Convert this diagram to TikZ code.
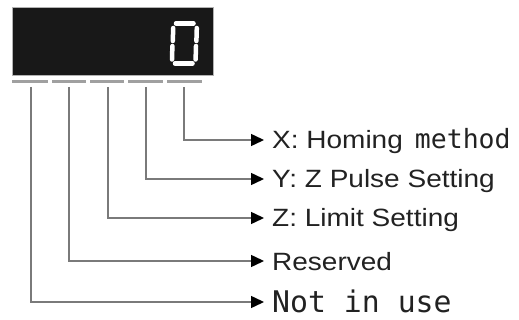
\documentclass[tikz,border=0pt]{standalone}
\usepackage{fontspec}
\setmainfont{Liberation Sans}
\newfontfamily\monof{DejaVu Sans Mono}
\usetikzlibrary{arrows.meta}
\definecolor{linegray}{HTML}{7A7A7A}
\definecolor{dashgray}{HTML}{A0A0A0}
\definecolor{dispbg}{HTML}{181818}
\definecolor{txt}{HTML}{222222}
\tikzset{
  conn/.style={draw=linegray, line width=1.5pt, -{Triangle[length=13pt,width=12pt,color=black]}},
  lab/.style={anchor=base west, inner sep=0pt, text=txt, font=\fontsize{25}{25}\selectfont},
  seg/.style={draw=white, line width=4.5pt, line cap=round},
  dashbar/.style={draw=dashgray, line width=3pt}
}
\newcommand{\wide}[1]{\scalebox{1.12}[1]{#1}}
\begin{document}
\begin{tikzpicture}[x=1pt,y=-1pt]
\useasboundingbox (0,0) rectangle (519,320);
% display
\node[draw=gray!60, line width=0.8pt, fill=dispbg, minimum width=201pt, minimum height=68pt, anchor=north west, inner sep=0pt] (disp) at (12,7) {};
% digit 0
\draw[seg] (176,23.5) -- (193.5,23.5);
\draw[seg] (173.2,28) -- (172.8,41);
\draw[seg] (196.8,28) -- (196.4,41);
\draw[seg] (172.4,46) -- (172,59.5);
\draw[seg] (196,46) -- (195.6,59.5);
\draw[seg] (175,63.5) -- (192.5,63.5);
% dashes
\foreach \a/\b in {12/48, 52/86, 90/124, 128/163, 167/202}
  \draw[dashbar] (\a,82) -- (\b,82);
% start points
\coordinate (s1) at (184,87);
\coordinate (s2) at (146,87);
\coordinate (s3) at (108,87);
\coordinate (s4) at (69,87);
\coordinate (s5) at (31,87);
% arrow end points
\coordinate (e1) at (264,140);
\coordinate (e2) at (264,179);
\coordinate (e3) at (264,218);
\coordinate (e4) at (264,261);
\coordinate (e5) at (264,302);
% labels
\node[lab] (t1) at (272,149) {\wide{X: Homing}\hspace{12pt}{\monof\fontsize{26.5}{26.5}\selectfont method}};
\node[lab] (t2) at (272,188) {\wide{Y: Z Pulse Setting}};
\node[lab] (t3) at (272,227) {\wide{Z: Limit Setting}};
\node[lab] (t4) at (272,270) {\wide{Reserved}};
\node[lab] (t5) at (272,312) {{\monof\fontsize{29.8}{29.8}\selectfont Not in use}};
% connectors
\draw[conn] (s1) |- (e1);
\draw[conn] (s2) |- (e2);
\draw[conn] (s3) |- (e3);
\draw[conn] (s4) |- (e4);
\draw[conn] (s5) |- (e5);
\end{tikzpicture}
\end{document}
